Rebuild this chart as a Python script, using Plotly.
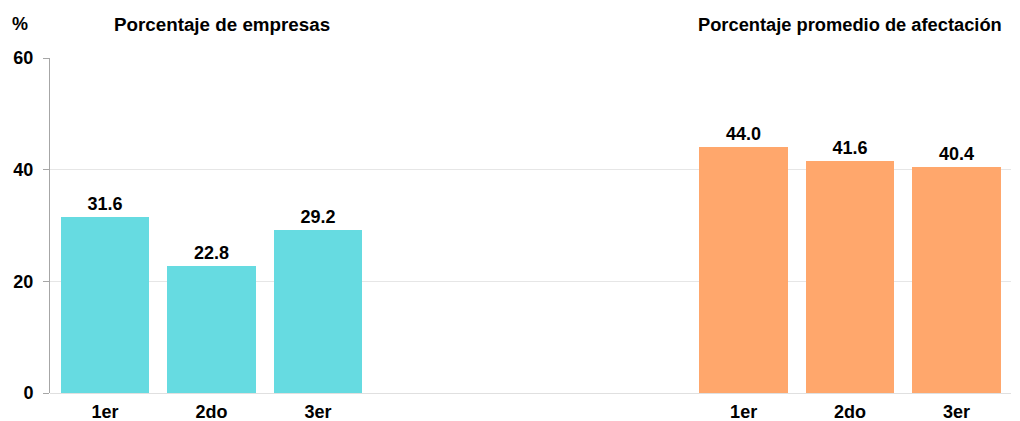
import plotly.graph_objects as go

categories = ["1er", "2do", "3er"]
empresas = [31.6, 22.8, 29.2]
afectacion = [44.0, 41.6, 40.4]
pos_left = [0, 1, 2]
pos_right = [6, 7, 8]
yticks = [0, 20, 40, 60]

font = "Liberation Sans, Arial, sans-serif"
FS = 18

fig = go.Figure()
fig.add_trace(go.Bar(
    x=pos_left, y=empresas, width=0.83,
    marker=dict(color="#66DBE1", line=dict(width=0)),
    text=[f"<b>{v:.1f}</b>" for v in empresas], textposition="outside",
    textfont=dict(family=font, size=FS, color="#000000"),
    cliponaxis=False, hoverinfo="skip"))
fig.add_trace(go.Bar(
    x=pos_right, y=afectacion, width=0.83,
    marker=dict(color="#FFA76C", line=dict(width=0)),
    text=[f"<b>{v:.1f}</b>" for v in afectacion], textposition="outside",
    textfont=dict(family=font, size=FS, color="#000000"),
    cliponaxis=False, hoverinfo="skip"))

fig.update_layout(
    width=1012, height=413,
    margin=dict(l=42, r=9, t=50, b=28, autoexpand=False),
    plot_bgcolor="white", paper_bgcolor="white",
    showlegend=False, bargap=0,
    font=dict(family=font, size=FS, color="#000000"),
    xaxis=dict(
        range=[-0.517, 8.512], tickmode="array",
        tickvals=pos_left + pos_right,
        ticktext=[f"<b>{c}</b>" for c in categories + categories],
        showgrid=False, zeroline=False, showline=False, ticks="",
        ticklabelstandoff=6, automargin=False,
        tickfont=dict(family=font, size=FS, color="#000000"),
    ),
    yaxis=dict(
        range=[0, 60], tickmode="array", tickvals=yticks,
        ticktext=[f"<b>{t}</b>" for t in yticks],
        showgrid=True, gridcolor="#E6E6E6",
        gridwidth=1, zeroline=True, zerolinecolor="#E0E0E0", zerolinewidth=1,
        showline=True, linecolor="#A6A6A6", linewidth=1,
        ticks="outside", ticklen=6, tickcolor="#A6A6A6",
        ticklabelstandoff=6, automargin=False,
        tickfont=dict(family=font, size=FS, color="#000000"),
    ),
    annotations=[
        dict(text="<b>%</b>", xref="paper", yref="paper", x=-0.031, y=1.0,
             yshift=34, showarrow=False, xanchor="center", yanchor="middle",
             font=dict(family=font, size=FS)),
        dict(text="<b>Porcentaje de empresas</b>", xref="x", yref="paper",
             x=1.1, y=1.0, yshift=34, showarrow=False, xanchor="center",
             yanchor="middle", font=dict(family=font, size=18.8)),
        dict(text="<b>Porcentaje promedio de afectación</b>", xref="x",
             yref="paper", x=7.0, y=1.0, yshift=34, showarrow=False,
             xanchor="center", yanchor="middle", font=dict(family=font, size=18.3)),
    ],
)

fig.write_html("out.html")
